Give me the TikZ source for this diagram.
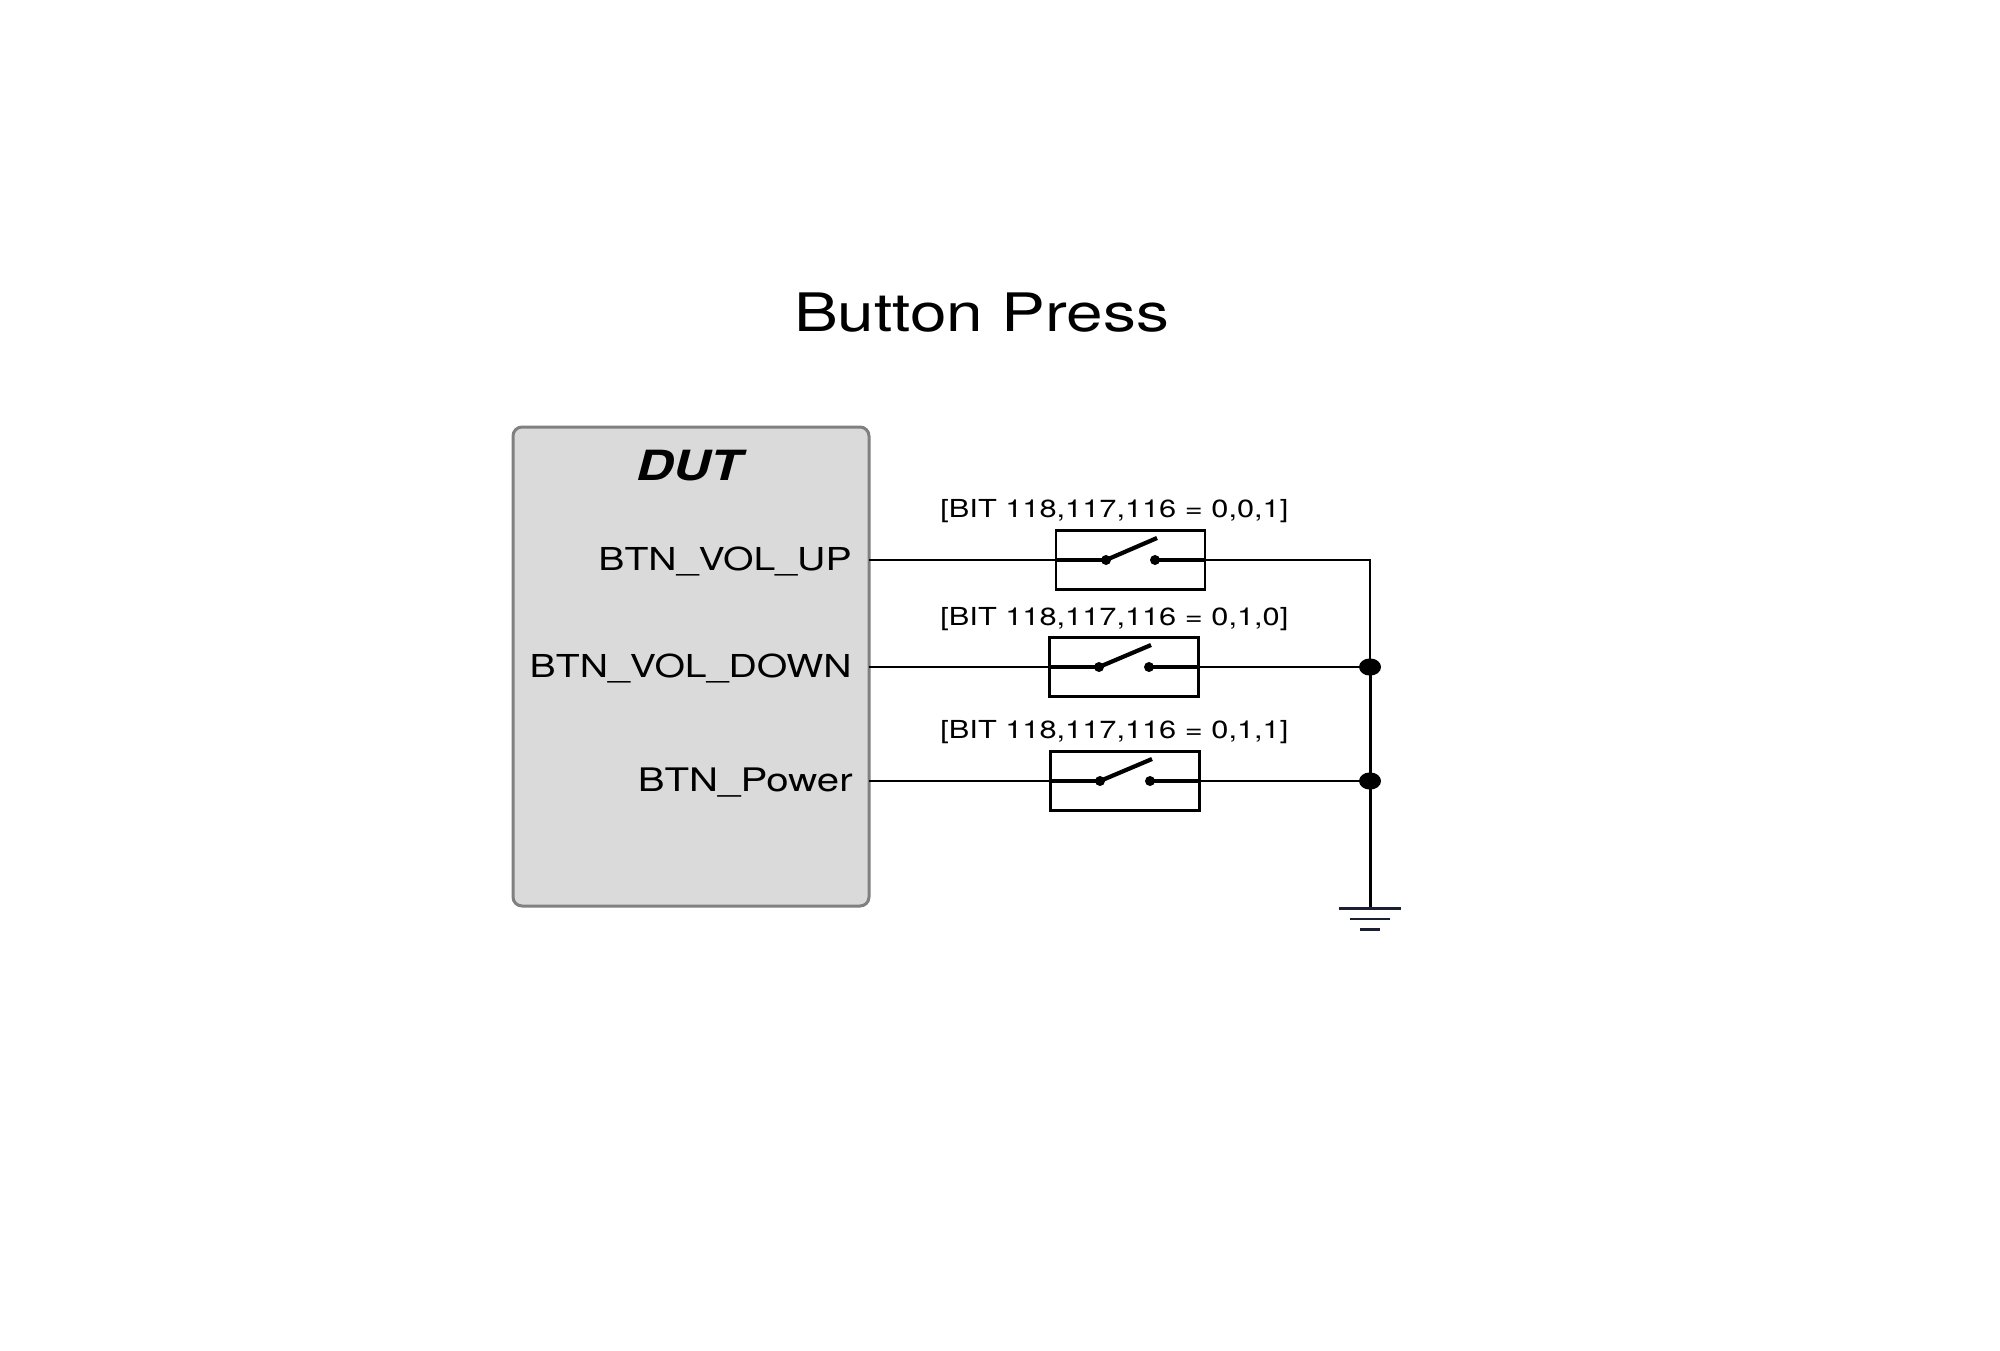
\documentclass[tikz,border=0pt]{standalone}
\usepackage{fontspec}
\usepackage{graphicx}
\setmainfont{TeX Gyre Heros}
\usetikzlibrary{shapes.geometric}
\newcommand{\wide}[1]{\scalebox{1.24}[1]{#1}}
\definecolor{boxgray}{HTML}{DADADA}
\definecolor{boxedge}{HTML}{808080}
\definecolor{groundink}{HTML}{1A1F33}
\tikzset{
  titletext/.style={inner sep=0pt,anchor=base,font=\fontsize{26.5pt}{30pt}\selectfont},
  duttext/.style={inner sep=0pt,anchor=base,font=\fontsize{20.8pt}{24pt}\selectfont\bfseries\itshape},
  pintext/.style={inner sep=0pt,anchor=base east,font=\fontsize{15.8pt}{18pt}\selectfont},
  bittext/.style={inner sep=0pt,anchor=base west,font=\fontsize{12.4pt}{15pt}\selectfont},
  dutbox/.style={draw=boxedge,fill=boxgray,line width=1.5pt,rounded corners=4.5pt,minimum width=178pt,minimum height=239.5pt,inner sep=0pt},
  swbox/.style={draw=black,line width=1.1pt,minimum width=74.5pt,minimum height=29.5pt,inner sep=0pt},
  terminal/.style={circle,fill=black,minimum size=5pt,inner sep=0pt},
  junction/.style={ellipse,fill=black,minimum width=11pt,minimum height=8.6pt,inner sep=0pt},
  wire/.style={line width=1.25pt,black},
  lead/.style={line width=2.2pt,black},
  blade/.style={line width=2.1pt,black},
  gndline/.style={line width=1.1pt,groundink},
}
\begin{document}
\begin{tikzpicture}[x=0.5pt,y=-0.5pt]
\useasboundingbox (0,0) rectangle (2000,1350);
\fill[white] (0,0) rectangle (2000,1350);

\node[titletext] (title) at (981.5,331) {\wide{Button Press}};
\node[dutbox] (dut) at (691,666.5) {};
\node[duttext] (dutlabel) at (689,480) {\wide{DUT}};
\node[pintext] (pinA) at (852,570) {\wide{BTN\_VOL\_UP}};
\node[pintext] (pinB) at (852,677) {\wide{BTN\_VOL\_DOWN}};
\node[pintext,font=\fontsize{16.2pt}{18pt}\selectfont] (pinC) at (853,791) {\wide{BTN\_Power}};

\node[bittext] (bitA) at (940,517) {\wide{[BIT 118,117,116 = 0,0,1]}};
\node[bittext] (bitB) at (940,625) {\wide{[BIT 118,117,116 = 0,1,0]}};
\node[bittext] (bitC) at (940,738) {\wide{[BIT 118,117,116 = 0,1,1]}};

\node[swbox] (swA) at (1130.5,560) {};
\node[swbox] (swB) at (1124,667) {};
\node[swbox] (swC) at (1125,781) {};

\coordinate (outA) at (869,560);
\coordinate (outB) at (869,667);
\coordinate (outC) at (869,781);

% switch A
\node[terminal] (tAl) at (1106,560) {};
\node[terminal] (tAr) at (1155,560) {};
\coordinate (bA) at (1157,538);
% switch B
\node[terminal] (tBl) at (1099,667) {};
\node[terminal] (tBr) at (1149,667) {};
\coordinate (bB) at (1151,645);
% switch C
\node[terminal] (tCl) at (1100,781) {};
\node[terminal] (tCr) at (1150,781) {};
\coordinate (bC) at (1152,759);

\node[junction] (jB) at (1370,667) {};
\node[junction] (jC) at (1370,781) {};
\coordinate (cornerA) at (1370,560);
\coordinate (gndtop) at (1370,908);

\draw[wire] (outA) -- (swA.west);
\draw[wire] (outB) -- (swB.west);
\draw[wire] (outC) -- (swC.west);
\draw[lead] (swA.west) -- (tAl.center);
\draw[lead] (swB.west) -- (tBl.center);
\draw[lead] (swC.west) -- (tCl.center);
\draw[lead] (tAr.center) -- (swA.east);
\draw[lead] (tBr.center) -- (swB.east);
\draw[lead] (tCr.center) -- (swC.east);
\draw[blade] (tAl.center) -- (bA);
\draw[blade] (tBl.center) -- (bB);
\draw[blade] (tCl.center) -- (bC);
\draw[wire] (swA.east) -- (cornerA) -- (jB.center);
\draw[wire] (swB.east) -- (jB.center);
\draw[wire] (swC.east) -- (jC.center);
\draw[line width=1.5pt] (jB.center) -- (jC.center) -- (gndtop);

\coordinate (g1l) at (1339,908.5);
\coordinate (g1r) at (1401,908.5);
\coordinate (g2l) at (1350,919);
\coordinate (g2r) at (1390,919);
\coordinate (g3l) at (1360,929.5);
\coordinate (g3r) at (1380,929.5);
\draw[gndline] (g1l) -- (g1r);
\draw[gndline] (g2l) -- (g2r);
\draw[gndline] (g3l) -- (g3r);
\end{tikzpicture}
\end{document}
